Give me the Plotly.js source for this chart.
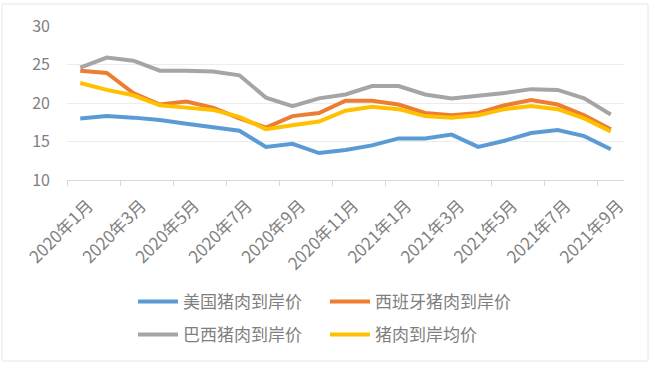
<!DOCTYPE html>
<html>
<head>
<meta charset="utf-8">
<script src="https://cdn.plot.ly/plotly-3.0.1.min.js"></script>
<style>
html,body{margin:0;padding:0;background:#fff;}
#chart{width:654px;height:365px;}
</style>
</head>
<body>
<div id="chart"></div>
<script>
const months = ["2020年1月","2020年2月","2020年3月","2020年4月","2020年5月","2020年6月","2020年7月","2020年8月","2020年9月","2020年10月","2020年11月","2020年12月","2021年1月","2021年2月","2021年3月","2021年4月","2021年5月","2021年6月","2021年7月","2021年8月","2021年9月"];
const usPrice    = [18.0,18.3,18.1,17.8,17.3,16.9,16.4,14.3,14.7,13.5,13.9,14.5,15.4,15.4,15.9,14.3,15.1,16.1,16.5,15.7,14.0];
const spainPrice = [24.2,23.9,21.3,19.8,20.2,19.4,18.0,16.8,18.3,18.7,20.3,20.3,19.8,18.7,18.4,18.7,19.7,20.4,19.8,18.4,16.6];
const brazilPrice= [24.6,25.9,25.5,24.2,24.2,24.1,23.6,20.7,19.6,20.6,21.1,22.2,22.2,21.1,20.6,20.9,21.3,21.8,21.7,20.6,18.5];
const avgPrice   = [22.6,21.7,21.0,19.7,19.4,19.1,18.2,16.6,17.1,17.6,19.0,19.5,19.2,18.3,18.1,18.4,19.2,19.6,19.2,18.0,16.3];
const names = ["美国猪肉到岸价","西班牙猪肉到岸价","巴西猪肉到岸价","猪肉到岸均价"];
const colors = ["#5B9BD5","#ED7D31","#A5A5A5","#FFC000"];

const font = "'Noto Sans CJK SC', 'Noto Sans', sans-serif";
const series = [usPrice, spainPrice, brazilPrice, avgPrice];
const legendIds = ["legend","legend","legend2","legend2"];
const traces = series.map((v,i)=>({
  type:"scatter", mode:"lines", x:months, y:v, name:names[i],
  line:{color:colors[i], width:4}, legend:legendIds[i]
}));

const L=67, R=30, T=26, B=185, W=654, H=365;
const pw = W-L-R, ph = H-T-B;
const px = v => (v-L)/pw;
const py = v => (H-B-v)/ph;

const legendCommon = {
  orientation:"h", xanchor:"left", yanchor:"middle",
  font:{family:font, size:17, color:"#7f7f7f"},
  bgcolor:"rgba(0,0,0,0)", entrywidth:137, entrywidthmode:"pixels",
  itemwidth:40, traceorder:"normal"
};

const layout = {
  width:W, height:H,
  margin:{l:L, r:R, t:T, b:B},
  paper_bgcolor:"#fff", plot_bgcolor:"#fff",
  font:{family:font, color:"#7f7f7f"},
  showlegend:true,
  xaxis:{
    type:"category", range:[-0.5,20.5], dtick:2, tickangle:-45,
    tickson:"boundaries", ticks:"outside", ticklen:5, tickcolor:"#d9d9d9",
    showline:true, linecolor:"#d9d9d9", linewidth:1, showgrid:false,
    ticklabelshift:8, ticklabelstandoff:8,
    tickfont:{family:font, size:17, color:"#7f7f7f"}, fixedrange:true
  },
  yaxis:{
    range:[10,30], dtick:5, showgrid:true, gridcolor:"#ececec", gridwidth:1,
    zeroline:false, showline:false, ticks:"", ticklabelstandoff:16,
    tickfont:{family:font, size:16, color:"#7f7f7f"}, fixedrange:true
  },
  legend:Object.assign({}, legendCommon, {x:px(133), y:py(302)}),
  legend2:Object.assign({}, legendCommon, {x:px(133), y:py(335)}),
  shapes:[{
    type:"rect", xref:"paper", yref:"paper",
    x0:px(2), x1:px(648), y0:py(361), y1:py(4),
    line:{color:"#e6e6e6", width:1}, fillcolor:"rgba(0,0,0,0)", layer:"below"
  }]
};

Plotly.newPlot("chart", traces, layout, {staticPlot:true, displayModeBar:false});
</script>
</body>
</html>
